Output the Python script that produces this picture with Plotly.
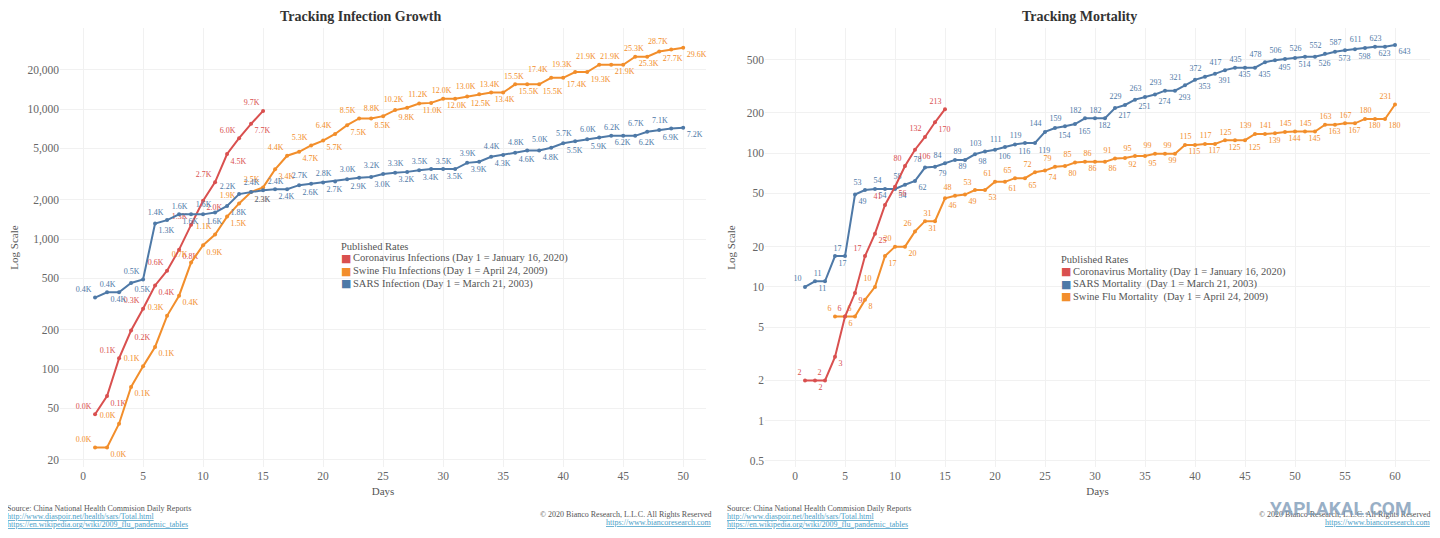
import plotly.graph_objects as go

# ---- data ----
infection_days_cv = list(range(1, 16))
infection_cv = [45, 62, 121, 198, 291, 440, 571, 830, 1287, 1975, 2744, 4515, 5974, 7711, 9692]

infection_days_swine = list(range(1, 51))
infection_swine = [25, 25, 38, 73, 105, 148, 257, 367, 660, 898,
                   1085, 1490, 1882, 2300, 2500, 3440, 4379, 4694, 5251, 5728,
                   6440, 7520, 8480, 8480, 8829, 9830, 10243, 11034, 11168, 12022,
                   12022, 12515, 13005, 13398, 13398, 15510, 15510, 15510, 17410, 17410,
                   19273, 19273, 21940, 21940, 21940, 25288, 25288, 27737, 28740, 29620]

infection_days_sars = list(range(1, 51))
infection_sars = [355, 390, 390, 460, 490, 1320, 1400, 1550, 1550, 1550,
                  1600, 1800, 2220, 2300, 2380, 2420, 2420, 2600, 2670, 2720,
                  2780, 2890, 2960, 3000, 3170, 3240, 3290, 3390, 3460, 3460,
                  3460, 3860, 3940, 4300, 4440, 4620, 4800, 4800, 5050, 5460,
                  5660, 5860, 6050, 6230, 6230, 6230, 6700, 6900, 7080, 7180]

mortality_days_cv = list(range(1, 16))
mortality_cv = [2, 2, 2, 3, 6, 9, 17, 25, 41, 56, 80, 106, 132, 170, 213]

mortality_days_sars = list(range(1, 61))
mortality_sars = [10, 11, 11, 17, 17, 49, 53, 54, 54, 54,
                  58, 62, 78, 79, 84, 89, 89, 98, 103, 106,
                  111, 116, 119, 119, 144, 154, 159, 165, 182, 182,
                  182, 217, 229, 251, 263, 274, 293, 293, 321, 353,
                  372, 391, 417, 435, 435, 435, 478, 495, 506, 514,
                  526, 526, 552, 573, 587, 598, 611, 623, 623, 643]

mortality_days_swine = list(range(4, 61))
mortality_swine = [6, 6, 6, 8, 10, 17, 20, 20, 26, 31,
                   31, 46, 48, 49, 53, 53, 61, 61, 65, 65,
                   72, 74, 79, 80, 85, 86, 86, 86, 91, 92,
                   95, 95, 99, 99, 99, 115, 115, 117, 117, 125,
                   125, 125, 139, 139, 141, 144, 145, 145, 145, 163,
                   163, 167, 167, 180, 180, 180, 231]

infection_names = ['Coronavirus Infections (Day 1 = January 16, 2020)',
                   'Swine Flu Infections (Day 1 = April 24, 2009)',
                   'SARS Infection (Day 1 = March 21, 2003)']
mortality_names = ['Coronavirus Mortality (Day 1 = January 16, 2020)',
                   'SARS Mortality  (Day 1 = March 21, 2003)',
                   'Swine Flu Mortality  (Day 1 = April 24, 2009)']

infection_ticks = [20, 50, 100, 200, 500, 1000, 2000, 5000, 10000, 20000]
mortality_ticks = [0.5, 1, 2, 5, 10, 20, 50, 100, 200, 500]

# ---- styling ----
RED = '#d9504f'
ORANGE = '#f28e2b'
BLUE = '#4e79a7'
FONT = 'Georgia, "Liberation Serif", "DejaVu Serif", serif'
TEXT = '#555555'
GRID = '#f1f1f1'
LINK = '#4aa0c8'

# the page body keeps its 8px margin, so the figure is 16px smaller than the window
PAGE_W, PAGE_H, BODY = 1440, 538, 8
FIG_W, FIG_H = PAGE_W - 2 * BODY, PAGE_H - 2 * BODY


def px(x):
    """ Window pixel column -> paper x. """
    return (x - BODY) / FIG_W


def py(y):
    """ Window pixel row -> paper y. """
    return 1 - (y - BODY) / FIG_H


def label_positions(n):
    # labels alternate above / below the line, as in the original
    return ['top left' if i % 2 == 0 else 'bottom right' for i in range(n)]


def series(x, y, color, texts, xaxis, yaxis, name):
    return go.Scatter(
        x=x, y=y, mode='lines+markers+text', name=name,
        line=dict(color=color, width=2),
        marker=dict(color=color, size=4),
        text=texts, textposition=label_positions(len(x)),
        textfont=dict(family=FONT, size=8, color=color),
        cliponaxis=False, showlegend=False, hoverinfo='x+y',
        xaxis=xaxis, yaxis=yaxis)


def k_labels(values):
    return ['{0:.1f}K'.format(v / 1000.0) for v in values]


fig = go.Figure()

fig.add_trace(series(infection_days_cv, infection_cv, RED, k_labels(infection_cv), 'x', 'y', infection_names[0]))
fig.add_trace(series(infection_days_swine, infection_swine, ORANGE, k_labels(infection_swine), 'x', 'y', infection_names[1]))
fig.add_trace(series(infection_days_sars, infection_sars, BLUE, k_labels(infection_sars), 'x', 'y', infection_names[2]))

fig.add_trace(series(mortality_days_swine, mortality_swine, ORANGE, [str(v) for v in mortality_swine], 'x2', 'y2', mortality_names[2]))
fig.add_trace(series(mortality_days_sars, mortality_sars, BLUE, [str(v) for v in mortality_sars], 'x2', 'y2', mortality_names[1]))
fig.add_trace(series(mortality_days_cv, mortality_cv, RED, [str(v) for v in mortality_cv], 'x2', 'y2', mortality_names[0]))

axis_common = dict(showgrid=True, gridcolor=GRID, gridwidth=1, zeroline=False, showline=False,
                   ticks='', tickfont=dict(family=FONT, size=11.5, color='#666666'))
axis_title_font = dict(family=FONT, size=11, color=TEXT)

y_domain = [py(467), py(28)]

fig.update_layout(
    width=FIG_W, height=FIG_H,
    margin=dict(l=0, r=0, t=0, b=0),
    paper_bgcolor='white', plot_bgcolor='white',
    font=dict(family=FONT, color=TEXT),
    showlegend=False,
    xaxis=dict(domain=[px(60), px(706)], range=[-1.92, 51.9], dtick=5, anchor='y',
               title=dict(text='Days', font=axis_title_font, standoff=6), **axis_common),
    yaxis=dict(domain=y_domain, type='log', range=[1.247, 4.624], anchor='x',
               tickvals=infection_ticks, tickformat=',',
               title=dict(text='Log Scale', font=axis_title_font, standoff=8), **axis_common),
    xaxis2=dict(domain=[px(765), px(1430)], range=[-3, 63.5], dtick=5, anchor='y2',
                title=dict(text='Days', font=axis_title_font, standoff=6), **axis_common),
    yaxis2=dict(domain=y_domain, type='log', range=[-0.346, 2.935], anchor='x2',
                tickvals=mortality_ticks,
                title=dict(text='Log Scale', font=axis_title_font, standoff=8), **axis_common),
)


def note(text, x, y, size=8, color=TEXT, xanchor='left', family=FONT, opacity=1.0):
    fig.add_annotation(text=text, x=px(x), y=py(y), xref='paper', yref='paper',
                       xanchor=xanchor, yanchor='middle', showarrow=False, opacity=opacity,
                       borderpad=0, font=dict(family=family, size=size, color=color))


def legend_block(names, colors, x, y):
    # compact Tableau-style colour legend
    note('Published Rates', x, y, size=10.5)
    for i, (name, color) in enumerate(zip(names, colors)):
        row = y + 12.5 * (i + 1)
        note('\u25a0', x, row, size=11, color=color, family='"DejaVu Sans", sans-serif')
        note(name, x + 12, row, size=10.5)


# titles
note('<b>Tracking Infection Growth</b>', 360, 16.5, size=14, color='#333333', xanchor='center')
note('<b>Tracking Mortality</b>', 1079, 16.5, size=14, color='#333333', xanchor='center')

legend_block(infection_names, [RED, ORANGE, BLUE], 340, 246)
legend_block(mortality_names, [RED, BLUE, ORANGE], 1060, 259)

# footers
for left, right in [(6, 713), (726, 1432)]:
    note('Source: China National Health Commision Daily Reports', left, 508.5)
    note('<u>http://www.diaspoir.net/health/sars/Total.html</u>', left, 516.5, color=LINK)
    note('<u>https://en.wikipedia.org/wiki/2009_flu_pandemic_tables</u>', left, 524.5, color=LINK)
    note('\u00a9 2020 Bianco Research, L.L.C. All Rights Reserved', right, 514, xanchor='right')
    note('<u>https://www.biancoresearch.com</u>', right, 522, color=LINK, xanchor='right')

# site watermark in the lower right corner
note('<b>YAPLAKAL.COM</b>', 1341, 508, size=19, color='#7f9cb8', xanchor='center',
     family='Roboto, "DejaVu Sans", sans-serif', opacity=0.8)

fig.write_html('out.html')
